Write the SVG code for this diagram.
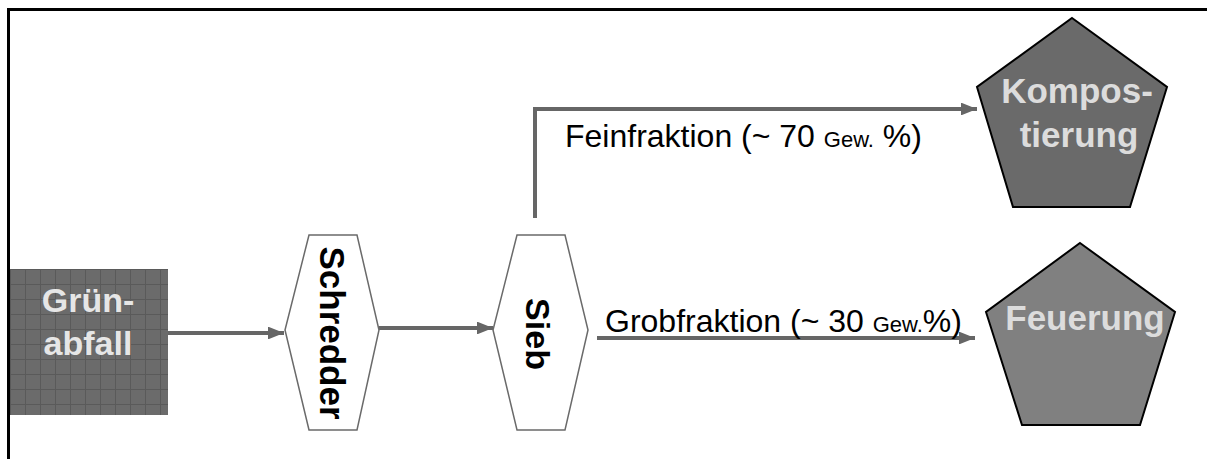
<svg xmlns="http://www.w3.org/2000/svg" width="1207" height="459" viewBox="0 0 1207 459">
<style>
.frame{fill:none;stroke:#000;stroke-width:3}
.conn{fill:none;stroke:#666;stroke-width:4}
.hex{fill:#fff;stroke:#6a6a6a;stroke-width:1.5}
.pent{stroke:#000;stroke-width:2}
.lbl{font-family:"Liberation Sans",Arial,sans-serif;fill:#000}
.big{font-family:"Liberation Sans",Arial,sans-serif;font-weight:bold}
</style>
<defs>
<marker id="ah" markerWidth="4" markerHeight="3.2" refX="4" refY="1.6" orient="auto" markerUnits="strokeWidth">
<path d="M0,0 L4,1.6 L0,3.2 Z" fill="#666"/>
</marker>
<pattern id="grid" width="15" height="15" patternUnits="userSpaceOnUse" x="10" y="269">
<rect width="15" height="15" fill="#6b6b6b"/>
<path d="M0,0.5 H15 M0.5,0 V15" stroke="#5a5a5a" stroke-width="1"/>
</pattern>
</defs>
<rect width="1207" height="459" fill="#fff"/>
<path class="frame" d="M8.5,459 V9.5 H1207"/>
<g id="connectors">
<path class="conn" d="M168,333 H284" marker-end="url(#ah)"/>
<path class="conn" d="M379,328 H493" marker-end="url(#ah)"/>
<path class="conn" d="M535,218 V109 H977" marker-end="url(#ah)"/>
<path class="conn" d="M597,338 H975" marker-end="url(#ah)"/>
</g>
<g id="gruenabfall">
<rect x="10" y="269" width="158" height="146" fill="url(#grid)"/>
<text class="big" x="88" y="312" font-size="34" fill="#e6e6e6" text-anchor="middle">Grün-</text>
<text class="big" x="88" y="355" font-size="34" fill="#e6e6e6" text-anchor="middle">abfall</text>
</g>
<g id="schredder">
<polygon class="hex" points="309,235 357,235 379,330 357,430 309,430 285,330"/>
<text class="big" transform="translate(320,333) rotate(90)" font-size="35" text-anchor="middle" fill="#000">Schredder</text>
</g>
<g id="sieb">
<polygon class="hex" points="517,235 565,235 588,330 565,430 517,430 493,330"/>
<text class="big" transform="translate(526,334) rotate(90)" font-size="34" text-anchor="middle" fill="#000">Sieb</text>
</g>
<g id="feinfraktion-label">
<text class="lbl" x="565" y="147" font-size="32">Feinfraktion (~ 70 <tspan font-size="22">Gew.</tspan> %)</text>
</g>
<g id="grobfraktion-label">
<text class="lbl" x="605" y="332" font-size="32">Grobfraktion (~ 30 <tspan font-size="22">Gew.</tspan>%)</text>
</g>
<g id="kompostierung">
<polygon class="pent" fill="#6a6a6a" points="1072,18 1167,87 1130,207 1013,207 977,87"/>
<text class="big" x="1077" y="103" font-size="35" fill="#dcdcdc" text-anchor="middle">Kompos-</text>
<text class="big" x="1079" y="147" font-size="35" fill="#dcdcdc" text-anchor="middle">tierung</text>
</g>
<g id="feuerung">
<polygon class="pent" fill="#808080" points="1080,243 1175,312 1140,425 1022,425 986,312"/>
<text class="big" x="1085" y="330" font-size="35" fill="#dcdcdc" text-anchor="middle">Feuerung</text>
</g>
</svg>
